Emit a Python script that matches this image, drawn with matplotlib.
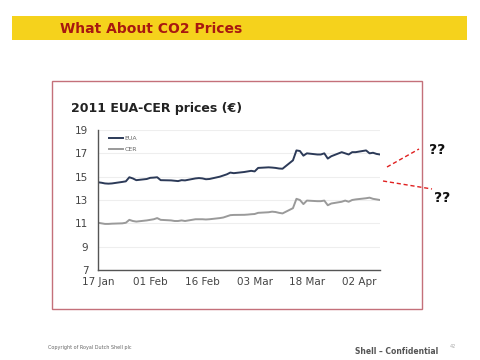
import numpy as np
import pandas as pd
import matplotlib.pyplot as plt
import matplotlib.dates as mdates
from matplotlib.patches import Rectangle

# business days 17 Jan - 8 Apr 2011
dates = pd.bdate_range('2011-01-17', '2011-04-08')

eua = [14.52, 14.48, 14.42, 14.40, 14.42,
       14.55, 14.60, 14.95, 14.85, 14.70,
       14.80, 14.90, 14.92, 14.95, 14.70,
       14.68, 14.65, 14.62, 14.70, 14.68,
       14.85, 14.88, 14.85, 14.78, 14.80,
       15.00, 15.10, 15.20, 15.35, 15.30,
       15.40, 15.45, 15.50, 15.45, 15.75,
       15.80, 15.78, 15.75, 15.70, 15.68,
       16.40, 17.25, 17.20, 16.80, 17.00,
       16.90, 16.90, 17.00, 16.55, 16.75,
       17.10, 17.00, 16.90, 17.10, 17.10,
       17.25, 17.00, 17.05, 16.95, 16.90]

cer = [11.05, 11.00, 10.95, 10.95, 10.97,
       11.00, 11.05, 11.30, 11.20, 11.15,
       11.25, 11.30, 11.35, 11.45, 11.30,
       11.25, 11.20, 11.20, 11.25, 11.20,
       11.35, 11.35, 11.35, 11.33, 11.35,
       11.45, 11.50, 11.60, 11.70, 11.72,
       11.73, 11.75, 11.78, 11.80, 11.90,
       11.95, 12.00, 11.97, 11.90, 11.85,
       12.30, 13.10, 13.00, 12.65, 12.95,
       12.90, 12.90, 12.95, 12.55, 12.70,
       12.85, 12.95, 12.85, 13.00, 13.05,
       13.15, 13.20, 13.10, 13.05, 13.00]

y_ticks = [7, 9, 11, 13, 15, 17, 19]
x_ticks = pd.date_range('2011-01-17', periods=6, freq='15D')

fig = plt.figure(figsize=(4.8, 3.6), dpi=100)
W, H = 480, 360

def fx(px):
    return px / W

def fy(py):
    return 1 - py / H

# yellow banner
fig.patches.append(Rectangle((fx(12), fy(40)), fx(455), 24 / H, transform=fig.transFigure,
                             facecolor='#f5d21c', edgecolor='none'))
fig.text(fx(60), fy(29), 'What About CO2 Prices', color='#a81810', fontsize=10,
         fontweight='bold', va='center', ha='left')

# red frame around chart
fig.patches.append(Rectangle((fx(52), fy(309)), fx(370), 228 / H, transform=fig.transFigure,
                             facecolor='none', edgecolor='#c4707a', linewidth=1))

ax = fig.add_axes([fx(98), fy(270), fx(282), 140 / H])
ax.plot(dates, eua, color='#2c3a58', linewidth=1.4, label='EUA')
ax.plot(dates, cer, color='#9a9a9a', linewidth=1.4, label='CER')

ax.set_ylim(7, 19)
ax.set_yticks(y_ticks)
ax.set_xlim(pd.Timestamp('2011-01-17'), pd.Timestamp('2011-04-08'))
ax.set_xticks(x_ticks)
ax.xaxis.set_major_formatter(mdates.DateFormatter('%d %b'))
ax.grid(axis='y', color='#eeeeee', linewidth=0.8)
ax.set_axisbelow(True)
for s in ['top', 'right']:
    ax.spines[s].set_visible(False)
for s in ['left', 'bottom']:
    ax.spines[s].set_color('#555555')
    ax.spines[s].set_linewidth(1)
ax.tick_params(axis='both', length=0, labelsize=7.5, labelcolor='#444444')
ax.tick_params(axis='x', pad=5)
ax.tick_params(axis='y', pad=7)
ax.legend(loc='upper left', bbox_to_anchor=(0.02, 1.0), frameon=False, fontsize=4.5,
          handlelength=2.2, handletextpad=0.2, labelspacing=0.9, labelcolor='#666666')

fig.text(fx(71), fy(108), '2011 EUA-CER prices (\u20ac)', fontsize=9, fontweight='bold',
         color='#222222', va='center', ha='left')

# dashed pointers and question marks
fig.add_artist(plt.Line2D([fx(387), fx(419)], [fy(167), fy(149)], transform=fig.transFigure,
                          color='#e02020', linestyle='--', linewidth=1, dashes=(3, 2)))
fig.add_artist(plt.Line2D([fx(383), fx(432)], [fy(181), fy(189)], transform=fig.transFigure,
                          color='#e02020', linestyle='--', linewidth=1, dashes=(3, 2)))
fig.text(fx(429), fy(150), '??', fontsize=10, fontweight='bold', color='#111111', va='center')
fig.text(fx(434), fy(198), '??', fontsize=10, fontweight='bold', color='#111111', va='center')

# footer
fig.text(fx(48), fy(347), 'Copyright of Royal Dutch Shell plc', fontsize=3.5, color='#666666', va='center')
fig.text(fx(355), fy(351), 'Shell \u2013 Confidential', fontsize=5.5, fontweight='bold',
         color='#555555', va='center')
fig.text(fx(450), fy(347), '42', fontsize=3.5, color='#aaaaaa', va='center')

fig.savefig('out.png', dpi=100)
